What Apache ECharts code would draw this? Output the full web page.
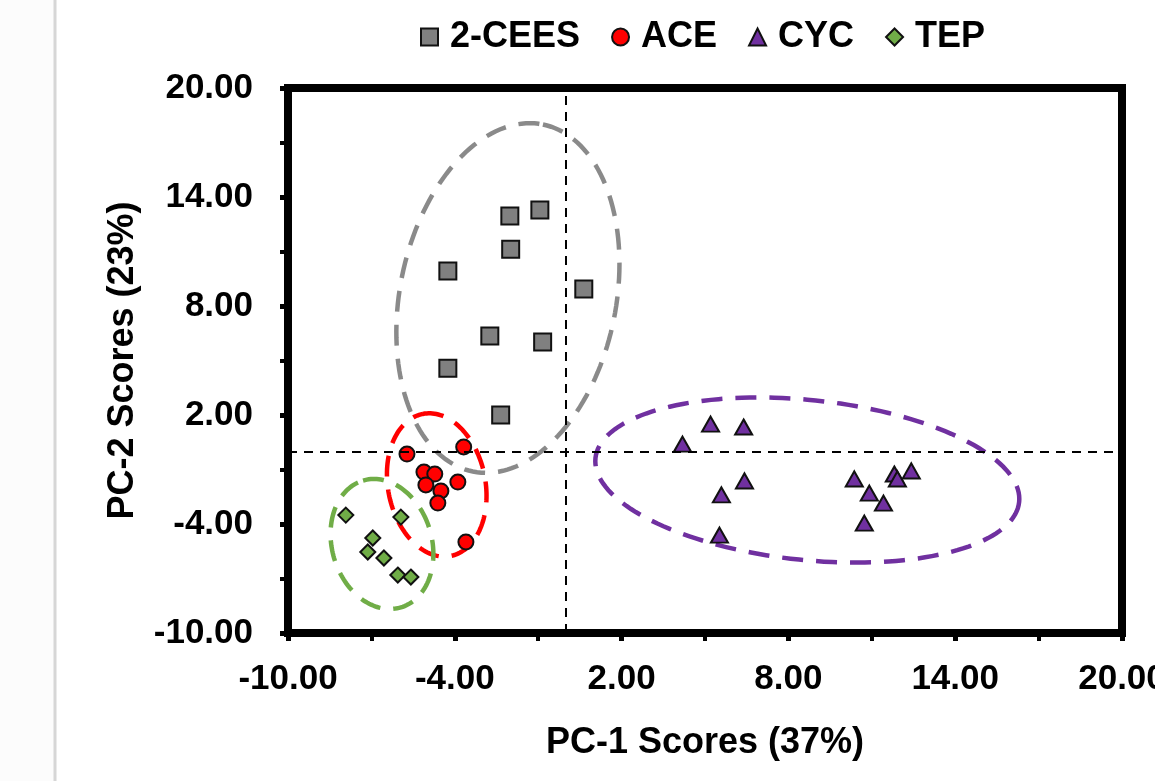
<!DOCTYPE html>
<html>
<head>
<meta charset="utf-8">
<script src="https://cdn.jsdelivr.net/npm/echarts@6/dist/echarts.min.js"></script>
<style>
  html, body { margin: 0; padding: 0; background: #fff; }
  #myChartDiv { width: 1155px; height: 781px; }
</style>
</head>
<body>
<div id="myChartDiv"></div>
<script>
// PCA scores
const ceesPoints = [
  [-2.02, 12.95], [-0.94, 13.28], [-1.99, 11.13], [-4.25, 9.92], [0.64, 8.93],
  [-2.74, 6.35], [-0.84, 6.02], [-4.25, 4.58], [-2.35, 2.0]
];
const acePoints = [
  [-3.68, 0.24], [-5.72, -0.15], [-5.11, -1.14], [-4.72, -1.25], [-3.89, -1.69],
  [-5.04, -1.85], [-4.5, -2.18], [-4.61, -2.85], [-3.6, -4.99]
];
const cycPoints = [
  [4.19, 0.4], [5.2, 1.5], [6.39, 1.34], [6.42, -1.63], [5.59, -2.4], [5.52, -4.61],
  [10.37, -1.52], [10.91, -2.3], [11.42, -2.85], [10.73, -3.95], [11.81, -1.25],
  [11.92, -1.52], [12.42, -1.08]
];
const tepPoints = [
  [-7.92, -3.51], [-5.94, -3.62], [-6.95, -4.77], [-7.13, -5.54], [-6.55, -5.87],
  [-6.05, -6.81], [-5.58, -6.92]
];

// group ellipses: centre x, centre y, axis-1 (dx, dy), axis-2 (dx, dy)
const ceesEllipse = [-2.09, 8.44, 1.26, 9.55, 3.81, -1.18];
const aceEllipse = [-4.65, -1.85, -0.5, 3.91, 1.72, 0.52];
const cycEllipse = [8.68, -1.58, 7.62, -1.21, -0.3, -4.38];
const tepEllipse = [-6.62, -5.1, -0.68, 3.49, 1.72, 0.79];

const xTicks = { min: -10, max: 20, step: 6 };
const yTicks = { min: -10, max: 20, step: 6 };

(() => {
  let myChart = echarts.init(document.getElementById('myChartDiv'));
  const font = '"Liberation Sans", Arial, sans-serif';

  const ellipseSeries = (ell, color) => ({
    type: 'custom',
    silent: true,
    z: 1,
    clip: false,
    data: [ell],
    encode: { x: 0, y: 1 },
    renderItem: (params, api) => {
      const [cx, cy, ax, ay, bx, by] = ell;
      const pts = [];
      for (let i = 0; i <= 160; i++) {
        const t = (i / 160) * Math.PI * 2;
        pts.push(api.coord([cx + ax * Math.cos(t) + bx * Math.sin(t), cy + ay * Math.cos(t) + by * Math.sin(t)]));
      }
      return {
        type: 'polyline',
        shape: { points: pts },
        style: { stroke: color, lineWidth: 4.5, fill: null, lineDash: [21, 13] }
      };
    }
  });

  const scatter = (name, data, symbol, size, color) => ({
    name: name,
    type: 'scatter',
    z: 3,
    symbol: symbol,
    symbolSize: size,
    data: data,
    itemStyle: { color: color, borderColor: '#111', borderWidth: 2, opacity: 1 }
  });

  const axisCommon = {
    axisLine: { onZero: false, lineStyle: { color: '#000', width: 8 } },
    axisTick: { show: true, length: 8, lineStyle: { color: '#000', width: 5 } },
    minorTick: { show: true, splitNumber: 2, length: 8, lineStyle: { color: '#000', width: 4 } },
    splitLine: { show: false },
    nameLocation: 'middle',
    nameTextStyle: { fontFamily: font, fontWeight: 'bold', fontSize: 36, color: '#000' }
  };

  let option = {
    animation: false,
    backgroundColor: '#fff',
    graphic: [
      { type: 'rect', shape: { x: 0, y: 0, width: 55, height: 781 }, style: { fill: '#fcfcfc' }, z: -1 },
      { type: 'line', shape: { x1: 55, y1: 0, x2: 55, y2: 781 }, style: { stroke: '#d6d6d6', lineWidth: 3 } }
    ],
    legend: {
      left: 415,
      top: 14,
      itemWidth: 17,
      itemHeight: 17,
      itemGap: 31,
      data: ['2-CEES', 'ACE', 'CYC', 'TEP'],
      textStyle: { fontFamily: font, fontWeight: 'bold', fontSize: 36, color: '#000', padding: [0, 0, 0, 7] }
    },
    grid: {
      left: 288, right: 33, top: 88, bottom: 148,
      outerBoundsMode: 'none',
      containLabel: false,
      show: true, borderColor: '#000', borderWidth: 8
    },
    xAxis: Object.assign({}, axisCommon, {
      type: 'value',
      min: xTicks.min, max: xTicks.max, interval: xTicks.step,
      name: 'PC-1 Scores (37%)',
      nameGap: 92,
      axisLabel: {
        margin: 29, fontFamily: font, fontWeight: 'bold', fontSize: 35, color: '#000',
        formatter: v => v.toFixed(2)
      }
    }),
    yAxis: Object.assign({}, axisCommon, {
      type: 'value',
      min: yTicks.min, max: yTicks.max, interval: yTicks.step,
      name: 'PC-2 Scores (23%)',
      nameGap: 147,
      axisLabel: {
        margin: 35, fontFamily: font, fontWeight: 'bold', fontSize: 35, color: '#000',
        formatter: v => v.toFixed(2)
      }
    }),
    series: [
      ellipseSeries(ceesEllipse, '#8a8a8a'),
      ellipseSeries(aceEllipse, '#ff0000'),
      ellipseSeries(cycEllipse, '#7030a0'),
      ellipseSeries(tepEllipse, '#70ad47'),
      Object.assign(scatter('2-CEES', ceesPoints, 'rect', 17, '#808080'), {
        markLine: {
          silent: true,
          symbol: 'none',
          label: { show: false },
          lineStyle: { color: '#000', width: 2, type: [9, 7] },
          data: [{ xAxis: 0 }, { yAxis: 0 }]
        }
      }),
      scatter('ACE', acePoints, 'circle', 15, '#ff0000'),
      scatter('CYC', cycPoints, 'triangle', [17, 15], '#7030a0'),
      scatter('TEP', tepPoints, 'diamond', 15, '#70ad47')
    ]
  };

  myChart.setOption(option);
})();
</script>
</body>
</html>
